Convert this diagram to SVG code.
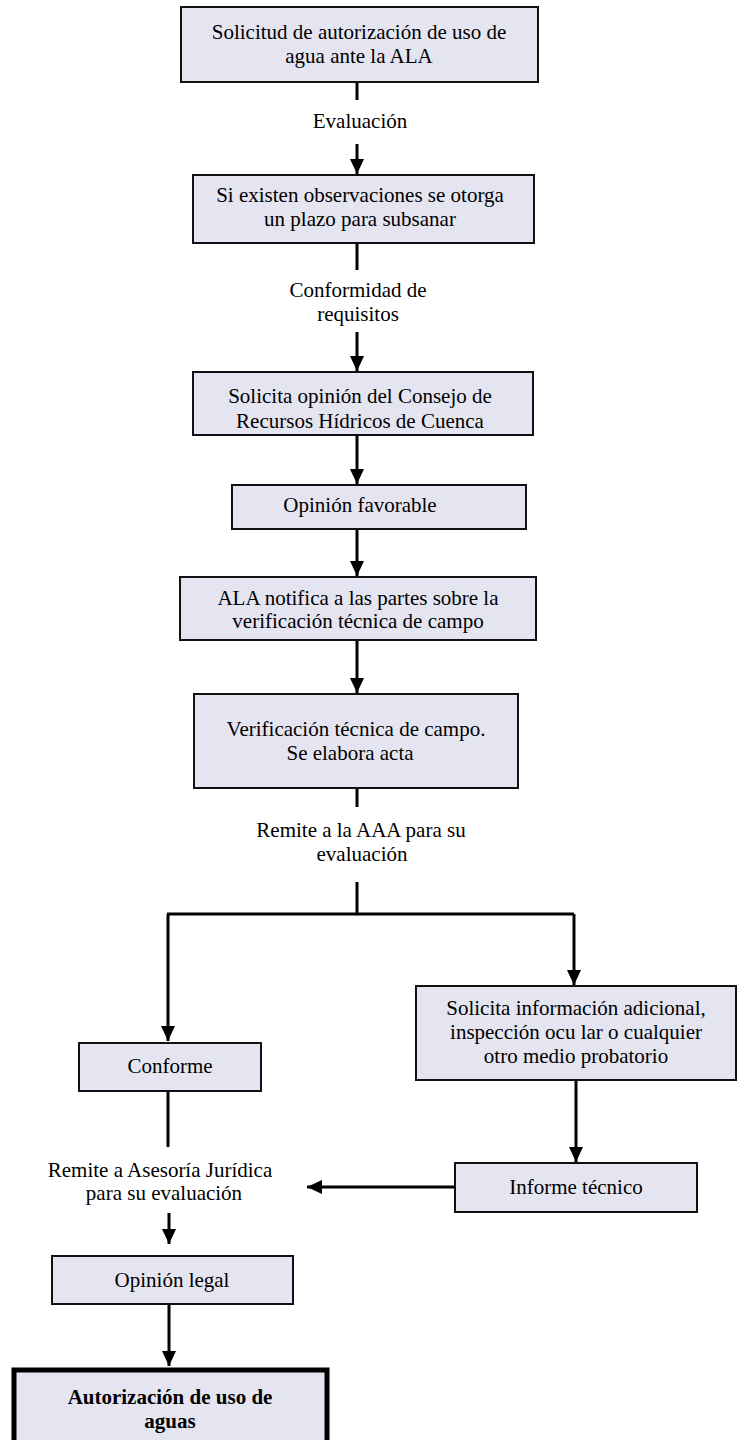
<svg xmlns="http://www.w3.org/2000/svg" width="738" height="1440" viewBox="0 0 738 1440">
<defs>
<marker id="ah" markerUnits="userSpaceOnUse" markerWidth="16" markerHeight="14" refX="15" refY="7" orient="auto">
<path d="M0,0 L15,7 L0,14 Z" fill="#000"/>
</marker>
<style>
.box{fill:#e5e5f1;stroke:#111;stroke-width:2}
.fin{fill:#e5e5f1;stroke:#000;stroke-width:5}
.t{font-family:"Liberation Serif","Times New Roman",serif;font-size:21px;fill:#000;text-anchor:middle}
.b{font-weight:bold}
.c{fill:none;stroke:#000;stroke-width:3}
.a{fill:none;stroke:#000;stroke-width:3;marker-end:url(#ah)}
</style>
</defs>
<rect width="738" height="1440" fill="#fff"/>
<g id="connectors">
<line class="c" x1="357" y1="82" x2="357" y2="100"/>
<line class="a" x1="357" y1="144" x2="357" y2="174"/>
<line class="c" x1="357" y1="243" x2="357" y2="270"/>
<line class="a" x1="357" y1="332" x2="357" y2="371"/>
<line class="a" x1="357" y1="435" x2="357" y2="484"/>
<line class="a" x1="357" y1="529" x2="357" y2="576"/>
<line class="a" x1="357" y1="640" x2="357" y2="693"/>
<line class="c" x1="357" y1="788" x2="357" y2="807"/>
<line class="c" x1="357" y1="882" x2="357" y2="914"/>
<polyline class="c" points="167,914 574,914"/>
<line class="a" x1="168" y1="914" x2="168" y2="1041"/>
<line class="a" x1="574" y1="914" x2="574" y2="985"/>
<line class="c" x1="168" y1="1091" x2="168" y2="1147"/>
<line class="a" x1="576" y1="1080" x2="576" y2="1162"/>
<line class="a" x1="455" y1="1187" x2="307" y2="1187"/>
<line class="a" x1="169" y1="1213" x2="169" y2="1244"/>
<line class="a" x1="169" y1="1304" x2="169" y2="1366"/>
</g>
<g id="n1">
<rect class="box" x="181" y="7" width="357" height="75"/>
<text class="t" x="359" y="39">Solicitud de autorización de uso de</text>
<text class="t" x="359" y="63">agua ante la ALA</text>
</g>
<g id="l1"><text class="t" x="360" y="128">Evaluación</text></g>
<g id="n2">
<rect class="box" x="193" y="175" width="341" height="68"/>
<text class="t" x="360" y="202">Si existen observaciones se otorga</text>
<text class="t" x="360" y="226">un plazo para subsanar</text>
</g>
<g id="l2">
<text class="t" x="358" y="297">Conformidad de</text>
<text class="t" x="358" y="321">requisitos</text>
</g>
<g id="n3">
<rect class="box" x="193" y="372" width="340" height="63"/>
<text class="t" x="360" y="403">Solicita opinión del Consejo de</text>
<text class="t" x="360" y="428">Recursos Hídricos de Cuenca</text>
</g>
<g id="n4">
<rect class="box" x="232" y="485" width="294" height="44"/>
<text class="t" x="360" y="512">Opinión favorable</text>
</g>
<g id="n5">
<rect class="box" x="180" y="577" width="356" height="63"/>
<text class="t" x="358" y="605">ALA notifica a las partes sobre la</text>
<text class="t" x="358" y="628">verificación técnica de campo</text>
</g>
<g id="n6">
<rect class="box" x="194" y="694" width="324" height="94"/>
<text class="t" x="356" y="736">Verificación técnica de campo.</text>
<text class="t" x="350" y="760">Se elabora acta</text>
</g>
<g id="l3">
<text class="t" x="361" y="837">Remite a la AAA para su</text>
<text class="t" x="362" y="861">evaluación</text>
</g>
<g id="n7">
<rect class="box" x="79" y="1043" width="182" height="48"/>
<text class="t" x="170" y="1073">Conforme</text>
</g>
<g id="n8">
<rect class="box" x="416" y="986" width="320" height="94"/>
<text class="t" x="576" y="1015">Solicita información adicional,</text>
<text class="t" x="576" y="1039">inspección ocu lar o cualquier</text>
<text class="t" x="576" y="1063">otro medio probatorio</text>
</g>
<g id="n9">
<rect class="box" x="455" y="1163" width="242" height="49"/>
<text class="t" x="576" y="1194">Informe técnico</text>
</g>
<g id="l4">
<text class="t" x="160" y="1177">Remite a Asesoría Jurídica</text>
<text class="t" x="164" y="1200">para su evaluación</text>
</g>
<g id="n10">
<rect class="box" x="52" y="1256" width="241" height="48"/>
<text class="t" x="172" y="1287">Opinión legal</text>
</g>
<g id="n11">
<rect class="fin" x="14" y="1370" width="313" height="80"/>
<text class="t b" x="170" y="1404">Autorización de uso de</text>
<text class="t b" x="170" y="1428">aguas</text>
</g>
</svg>
